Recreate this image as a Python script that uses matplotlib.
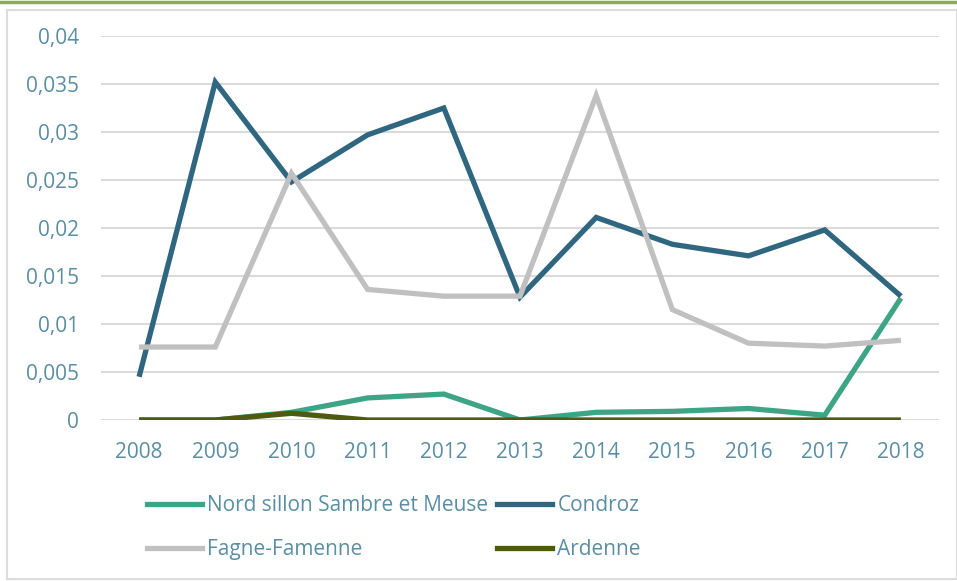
import numpy as np
import matplotlib
matplotlib.use("Agg")
import matplotlib.pyplot as plt
from matplotlib.patches import Rectangle
from matplotlib.lines import Line2D

years = [2008, 2009, 2010, 2011, 2012, 2013, 2014, 2015, 2016, 2017, 2018]
nord_sillon = [0.0, 0.0, 0.0008, 0.0023, 0.0027, 0.0, 0.0008, 0.0009, 0.0012, 0.0005, 0.0127]
condroz = [0.0045, 0.0352, 0.0248, 0.0297, 0.0325, 0.0128, 0.0211, 0.0183, 0.0171, 0.0198, 0.0129]
fagne_famenne = [0.0076, 0.0076, 0.0257, 0.0136, 0.0129, 0.0129, 0.0338, 0.0115, 0.0080, 0.0077, 0.0083]
ardenne = [0.0, 0.0, 0.0007, 0.0, 0.0, 0.0, 0.0, 0.0, 0.0, 0.0, 0.0]

series = [
    ("Nord sillon Sambre et Meuse", nord_sillon, "#3da585"),
    ("Condroz", condroz, "#2f6780"),
    ("Fagne-Famenne", fagne_famenne, "#c0c0c0"),
    ("Ardenne", ardenne, "#4e5a0e"),
]
yticks = [0, 0.005, 0.01, 0.015, 0.02, 0.025, 0.03, 0.035, 0.04]
ytick_labels = ["0", "0,005", "0,01", "0,015", "0,02", "0,025", "0,03", "0,035", "0,04"]

text_color = "#5a8ea3"
fs = 15
plt.rcParams['font.family'] = ['Open Sans', 'DejaVu Sans']

W, H = 957, 581
fig = plt.figure(figsize=(W / 100, H / 100), dpi=100)

# outer frame and green top rule
fig.patches.append(Rectangle((7 / W, 2 / H), (W - 7) / W, (H - 12) / H, transform=fig.transFigure,
                             fill=False, edgecolor="#dcdcdc", lw=1.5))
fig.add_artist(Line2D([0, 1], [1 - 1.5 / H, 1 - 1.5 / H], color="#8aaa5c", lw=2.5,
                      transform=fig.transFigure))

ax = fig.add_axes([101 / W, 1 - 420 / H, (939 - 101) / W, (420 - 36) / H])
x = np.arange(len(years))
for name, vals, col in series:
    ax.plot(x, vals, color=col, lw=3.8, label=name, solid_capstyle="butt", solid_joinstyle="miter")

ax.set_xlim(-0.5, len(years) - 0.5)
ax.set_ylim(0, 0.04)
ax.set_xticks(x)
ax.set_xticklabels([str(y) for y in years])
ax.set_yticks(yticks)
ax.set_yticklabels(ytick_labels)
ax.tick_params(length=0, labelsize=fs, colors=text_color)
ax.tick_params(axis="y", pad=16)
ax.tick_params(axis="x", pad=16)
ax.grid(axis="y", color="#dadada", lw=1.5)
ax.set_axisbelow(True)
for s in ax.spines.values():
    s.set_visible(False)

handles = [Line2D([], [], color=c, lw=3.8) for _, _, c in series]
labels = [n for n, _, _ in series]
order = [0, 2, 1, 3]
leg = fig.legend([handles[i] for i in order], [labels[i] for i in order], ncol=2,
                 loc="upper left", bbox_to_anchor=(147 / W, 1 - 495 / H), frameon=False,
                 borderpad=0, borderaxespad=0,
                 fontsize=fs, handlelength=2.65, handletextpad=0.25, columnspacing=0.4,
                 labelspacing=1.1, labelcolor=text_color)

fig.savefig("out.png", dpi=100)
